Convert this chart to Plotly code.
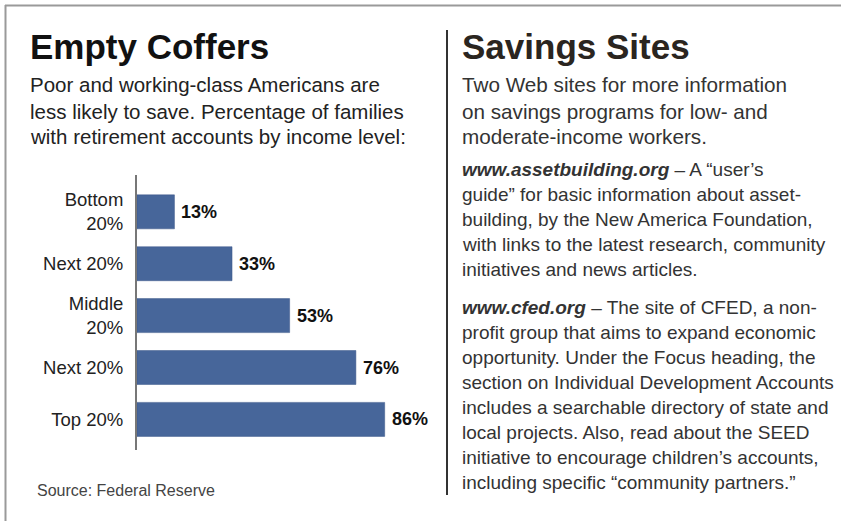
import plotly.graph_objects as go

# ---- data ----
categories = ["Bottom<br>20%", "Next 20%", "Middle<br>20%", "Next 20%", "Top 20%"]
values = [13, 33, 53, 76, 86]
value_labels = ["13%", "33%", "53%", "76%", "86%"]

title_left = "Empty Coffers"
subtitle_left = [
    "Poor and working-class Americans are",
    "less likely to save. Percentage of families",
    "with retirement accounts by income level:",
]
source_text = "Source: Federal Reserve"

title_right = "Savings Sites"
intro_right = [
    "Two Web sites for more information",
    "on savings programs for low- and",
    "moderate-income workers.",
]
para1 = [
    "<b><i>www.assetbuilding.org</i></b> – A “user’s",
    "guide” for basic information about asset-",
    "building, by the New America Foundation,",
    "with links to the latest research, community",
    "initiatives and news articles.",
]
para2 = [
    "<b><i>www.cfed.org</i></b> – The site of CFED, a non-",
    "profit group that aims to expand economic",
    "opportunity. Under the Focus heading, the",
    "section on Individual Development Accounts",
    "includes a searchable directory of state and",
    "local projects. Also, read about the SEED",
    "initiative to encourage children’s accounts,",
    "including specific “community partners.”",
]

W, H = 841, 521
FONT = "Liberation Sans, Arial, sans-serif"

def fx(px):
    return px / W

def fy(py):
    return 1 - py / H

idx = list(range(len(categories)))

fig = go.Figure()
fig.add_trace(go.Bar(
    x=values, y=idx, orientation="h", width=0.655,
    marker=dict(color="#47669A", line=dict(color="#3a5688", width=0.5)),
    hoverinfo="skip",
))

annotations = []
for v, i, t in zip(values, idx, value_labels):
    annotations.append(dict(
        x=v, y=i, xref="x", yref="y", text="<b>%s</b>" % t, showarrow=False,
        xanchor="left", yanchor="middle", xshift=5,
        font=dict(family=FONT, size=18, color="#111"),
    ))

def add_text(px, py, text, size, color="#222", bold=False):
    annotations.append(dict(
        x=fx(px), y=fy(py), xref="paper", yref="paper",
        text=("<b>%s</b>" % text) if bold else text,
        showarrow=False, xanchor="left", yanchor="middle", align="left",
        font=dict(family=FONT, size=size, color=color),
    ))

add_text(28, 46, title_left, 35, "#111", bold=True)
for k, line in enumerate(subtitle_left):
    add_text(28, 85 + 26 * k, line, 20.5, "#222")
add_text(35, 490, source_text, 16, "#444")

add_text(460, 46, title_right, 35, "#2a2520", bold=True)
for k, line in enumerate(intro_right):
    add_text(460, 85 + 26 * k, line, 20.7, "#333")
for k, line in enumerate(para1):
    add_text(460, 169 + 25.2 * k, line, 19, "#333")
for k, line in enumerate(para2):
    add_text(460, 307 + 25 * k, line, 19, "#333")

shapes = [
    dict(type="line", xref="paper", yref="paper", x0=fx(5), x1=1, y0=fy(5.5), y1=fy(5.5),
         line=dict(color="#9a9a9a", width=2)),
    dict(type="line", xref="paper", yref="paper", x0=fx(5.5), x1=fx(5.5), y0=fy(5), y1=0,
         line=dict(color="#9a9a9a", width=2)),
    dict(type="line", xref="paper", yref="paper", x0=fx(447), x1=fx(447), y0=fy(30), y1=fy(495),
         line=dict(color="#333", width=2)),
]

fig.update_layout(
    width=W, height=H,
    margin=dict(l=0, r=0, t=0, b=0),
    paper_bgcolor="white", plot_bgcolor="white",
    showlegend=False,
    annotations=annotations,
    shapes=shapes,
    xaxis=dict(domain=[fx(137), fx(425)], range=[0, 100], visible=False, fixedrange=True),
    yaxis=dict(domain=[fy(450), fy(175)], range=[4.59, -0.71],
               tickvals=idx, ticktext=categories, showline=True, linecolor="#777", linewidth=2,
               showgrid=False, zeroline=False, ticks="", ticklabelstandoff=8,
               tickfont=dict(family=FONT, size=18.5, color="#222"), fixedrange=True),
)

fig.write_html("out.html", config={"displayModeBar": False})
